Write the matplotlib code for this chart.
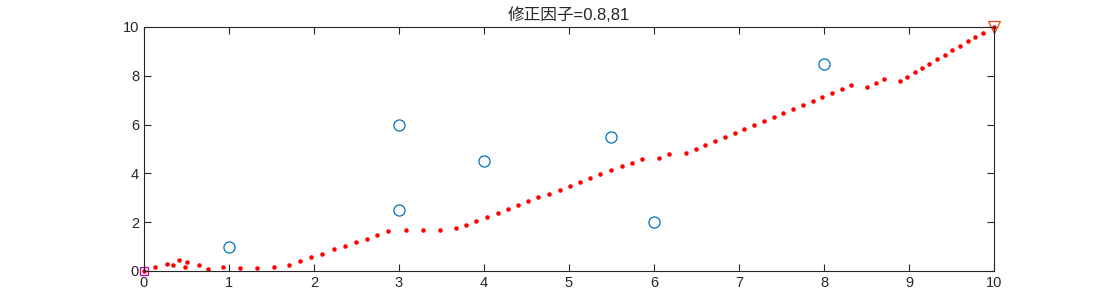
import matplotlib
matplotlib.use("Agg")
import matplotlib.pyplot as plt

plt.rcParams['font.family'] = ['Liberation Sans', 'Noto Sans CJK SC', 'DejaVu Sans']
plt.rcParams['font.size'] = 10

# Sample points (blue circles)
pts_x = [1, 3, 3, 4, 5.5, 6, 8]
pts_y = [1, 6, 2.5, 4.5, 5.5, 2, 8.5]

# Path found (red dots)
path_x = [0, 0.13, 0.27, 0.34, 0.41, 0.48, 0.51, 0.65, 0.75, 0.93, 1.13, 1.33,
          1.53, 1.71, 1.84, 1.97, 2.10, 2.23, 2.36, 2.49, 2.62, 2.74, 2.87,
          3.08, 3.28, 3.48, 3.67, 3.79, 3.91, 4.04, 4.16, 4.28, 4.40, 4.52,
          4.64, 4.76, 4.89, 5.01, 5.13, 5.25, 5.37, 5.49, 5.62, 5.74, 5.86,
          6.06, 6.18, 6.38, 6.49, 6.60, 6.72, 6.84, 6.95, 7.06, 7.18, 7.29,
          7.41, 7.52, 7.64, 7.75, 7.87, 7.98, 8.09, 8.21, 8.32, 8.51, 8.61,
          8.71, 8.89, 8.98, 9.07, 9.15, 9.24, 9.33, 9.42, 9.51, 9.60, 9.69,
          9.78, 9.87, 10]
path_y = [0, 0.15, 0.29, 0.25, 0.44, 0.15, 0.37, 0.26, 0.09, 0.16, 0.12, 0.14,
          0.16, 0.26, 0.41, 0.56, 0.71, 0.89, 1.02, 1.17, 1.32, 1.49, 1.64,
          1.67, 1.67, 1.69, 1.75, 1.90, 2.06, 2.21, 2.38, 2.54, 2.69, 2.86,
          3.02, 3.17, 3.33, 3.48, 3.65, 3.81, 3.96, 4.13, 4.29, 4.44, 4.60,
          4.64, 4.80, 4.82, 4.99, 5.15, 5.32, 5.48, 5.66, 5.81, 5.98, 6.15,
          6.31, 6.48, 6.64, 6.80, 6.97, 7.13, 7.30, 7.46, 7.63, 7.54, 7.72,
          7.88, 7.79, 7.96, 8.14, 8.32, 8.50, 8.69, 8.86, 9.04, 9.23, 9.41,
          9.59, 9.77, 10]

start = (0, 0)
goal = (10, 10)

fig = plt.figure(figsize=(10.99, 3.05), dpi=100)
ax = fig.add_axes([0.131, 0.1115, 0.7734, 0.8])

ax.plot(pts_x, pts_y, 'o', color='#0072BD', markerfacecolor='none',
        markersize=8, markeredgewidth=0.9, clip_on=False)
ax.plot(path_x, path_y, '.', color='red', markersize=4.5, clip_on=False)
ax.plot(*start, 's', color='m', markerfacecolor='none', markersize=6,
        markeredgewidth=0.9, clip_on=False)
ax.plot(*goal, 'v', color='#D95319', markerfacecolor='none', markersize=8,
        markeredgewidth=0.9, clip_on=False)

ax.set_xlim(0, 10)
ax.set_ylim(0, 10)
ax.set_xticks(range(0, 11))
ax.set_yticks(range(0, 11, 2))
ax.tick_params(direction='in', top=True, right=True, length=5,
               colors='#262626', labelsize=10.5)
for s in ax.spines.values():
    s.set_color('#262626')
    s.set_linewidth(0.8)

ax.set_title('修正因子=0.8,81', fontsize=12, color='#262626', pad=5)

fig.savefig('out.png', dpi=100)
